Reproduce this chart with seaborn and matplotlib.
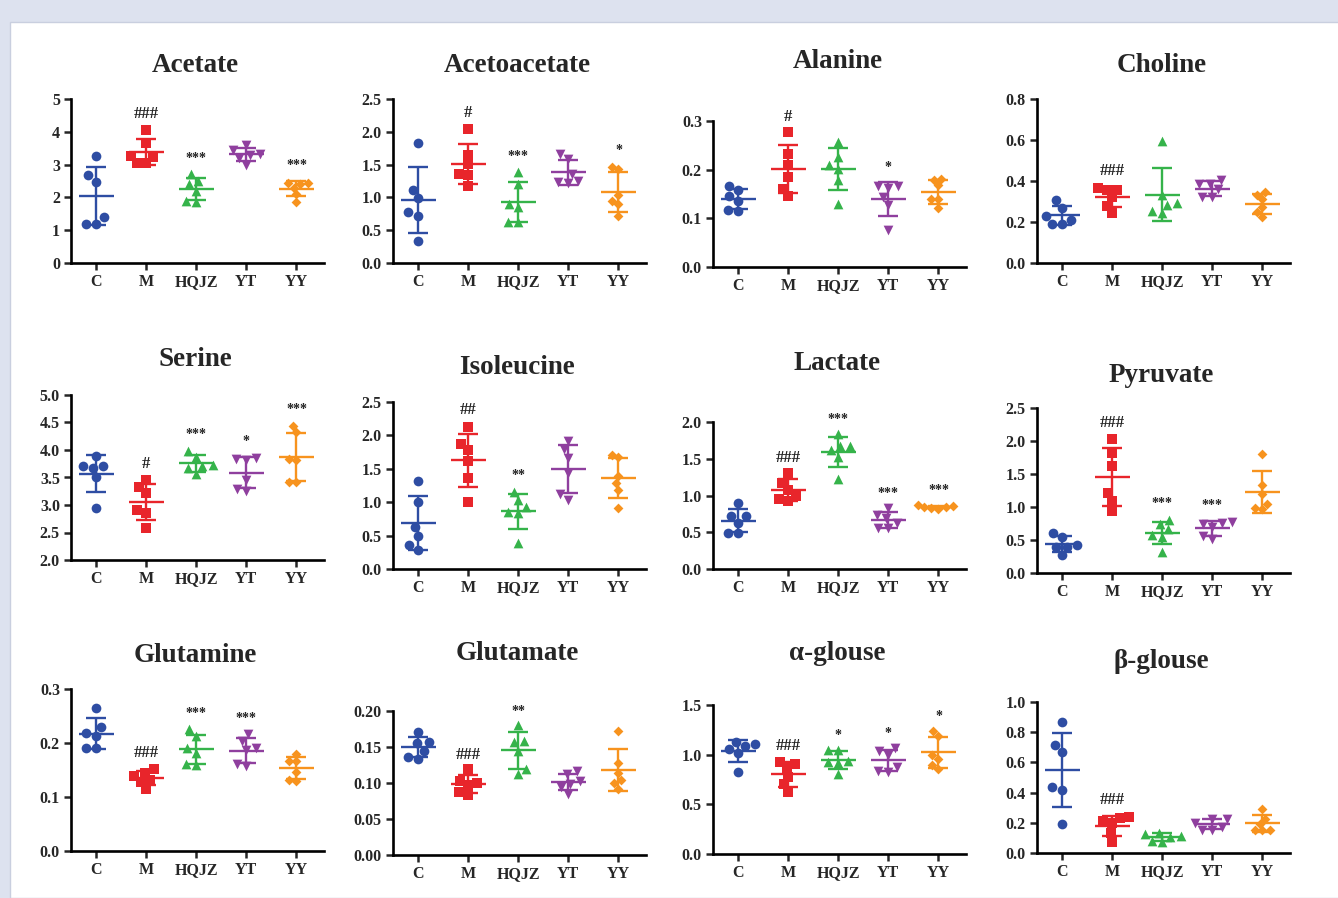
import numpy as np
import matplotlib
matplotlib.use('Agg')
import matplotlib.pyplot as plt
import seaborn as sns
from matplotlib.patches import Rectangle

groups = ['C', 'M', 'HQJZ', 'YT', 'YY']
colors = ['#2e4da3', '#e8252b', '#35b34a', '#8f3f9e', '#f7931e']
markers = ['o', 's', '^', 'v', 'D']
marker_sizes = [7, 6.5, 7, 7, 5]

# values per group: C, M, HQJZ, YT, YY
acetate = [[3.27, 2.67, 2.48, 1.39, 1.20, 1.20],
           [4.06, 3.65, 3.27, 3.23, 3.06, 3.04],
           [2.70, 2.50, 2.40, 2.20, 1.90, 1.85],
           [3.60, 3.45, 3.33, 3.28, 3.20, 3.00],
           [2.45, 2.43, 2.40, 2.30, 2.10, 1.87]]
acetoacetate = [[1.83, 1.12, 0.99, 0.77, 0.72, 0.33],
                [2.04, 1.65, 1.51, 1.35, 1.34, 1.18],
                [1.39, 1.20, 0.90, 0.85, 0.62, 0.62],
                [1.66, 1.58, 1.36, 1.25, 1.23, 1.22],
                [1.47, 1.43, 1.04, 0.94, 0.90, 0.71]]
alanine = [[0.166, 0.158, 0.145, 0.135, 0.118, 0.115],
           [0.277, 0.233, 0.209, 0.184, 0.161, 0.145],
           [0.257, 0.226, 0.209, 0.202, 0.179, 0.130],
           [0.166, 0.166, 0.163, 0.144, 0.127, 0.077],
           [0.181, 0.179, 0.168, 0.139, 0.139, 0.122]]
choline = [[0.305, 0.268, 0.230, 0.208, 0.190, 0.190],
           [0.365, 0.357, 0.357, 0.320, 0.280, 0.243],
           [0.593, 0.333, 0.295, 0.284, 0.256, 0.243],
           [0.406, 0.386, 0.386, 0.360, 0.321, 0.321],
           [0.344, 0.333, 0.312, 0.273, 0.247, 0.224]]
serine = [[3.89, 3.71, 3.71, 3.67, 3.50, 2.95],
          [3.45, 3.33, 3.22, 2.91, 2.85, 2.58],
          [3.99, 3.88, 3.73, 3.70, 3.67, 3.56],
          [3.86, 3.84, 3.82, 3.45, 3.30, 3.25],
          [4.44, 4.33, 3.83, 3.82, 3.42, 3.42]]
isoleucine = [[1.32, 1.01, 0.63, 0.49, 0.36, 0.29],
              [2.13, 1.87, 1.78, 1.61, 1.36, 1.00],
              [1.16, 1.03, 0.93, 0.85, 0.84, 0.39],
              [1.92, 1.79, 1.66, 1.44, 1.13, 1.04],
              [1.71, 1.67, 1.39, 1.29, 1.19, 0.91]]
lactate = [[0.90, 0.72, 0.72, 0.63, 0.49, 0.49],
           [1.31, 1.17, 1.08, 0.99, 0.95, 0.93],
           [1.84, 1.67, 1.67, 1.62, 1.53, 1.23],
           [0.83, 0.74, 0.69, 0.63, 0.56, 0.56],
           [0.87, 0.86, 0.85, 0.84, 0.83, 0.82]]
pyruvate = [[0.61, 0.54, 0.42, 0.40, 0.39, 0.27],
            [2.03, 1.82, 1.62, 1.21, 1.09, 0.94],
            [0.81, 0.74, 0.66, 0.57, 0.54, 0.32],
            [0.78, 0.76, 0.74, 0.70, 0.56, 0.52],
            [1.81, 1.34, 1.20, 1.05, 0.99, 0.97]]
glutamine = [[0.265, 0.229, 0.218, 0.213, 0.190, 0.190],
             [0.151, 0.145, 0.139, 0.131, 0.128, 0.114],
             [0.226, 0.213, 0.190, 0.181, 0.162, 0.159],
             [0.217, 0.203, 0.190, 0.187, 0.162, 0.157],
             [0.180, 0.166, 0.166, 0.147, 0.131, 0.130]]
glutamate = [[0.171, 0.157, 0.155, 0.145, 0.136, 0.134],
             [0.119, 0.103, 0.100, 0.097, 0.088, 0.083],
             [0.180, 0.158, 0.157, 0.145, 0.120, 0.112],
             [0.116, 0.112, 0.103, 0.099, 0.094, 0.085],
             [0.172, 0.128, 0.114, 0.104, 0.100, 0.092]]
a_glucose = [[1.13, 1.11, 1.09, 1.06, 1.02, 0.83],
             [0.93, 0.91, 0.87, 0.78, 0.70, 0.62],
             [1.05, 1.05, 0.94, 0.93, 0.92, 0.81],
             [1.07, 1.04, 1.00, 0.88, 0.84, 0.83],
             [1.24, 1.19, 1.00, 0.96, 0.90, 0.86]]
b_glucose = [[0.868, 0.713, 0.669, 0.437, 0.419, 0.194],
             [0.238, 0.234, 0.210, 0.200, 0.132, 0.073],
             [0.130, 0.128, 0.115, 0.108, 0.080, 0.070],
             [0.227, 0.227, 0.199, 0.172, 0.155, 0.155],
             [0.294, 0.227, 0.194, 0.155, 0.155, 0.150]]

titles = ['Acetate', 'Acetoacetate', 'Alanine', 'Choline',
          'Serine', 'Isoleucine', 'Lactate', 'Pyruvate',
          'Glutamine', 'Glutamate', 'α-glouse', 'β-glouse']
series = [acetate, acetoacetate, alanine, choline,
          serine, isoleucine, lactate, pyruvate,
          glutamine, glutamate, a_glucose, b_glucose]
# y axis: (min, max, step, decimals)
y_axes = [(0, 5, 1, 0), (0, 2.5, 0.5, 1), (0, 0.3, 0.1, 1), (0, 0.8, 0.2, 1),
          (2.0, 5.0, 0.5, 1), (0, 2.5, 0.5, 1), (0, 2.0, 0.5, 1), (0, 2.5, 0.5, 1),
          (0, 0.3, 0.1, 1), (0, 0.20, 0.05, 2), (0, 1.5, 0.5, 1), (0, 1.0, 0.2, 1)]
# significance marks per group
marks = [['', '###', '***', '', '***'],
         ['', '#', '***', '', '*'],
         ['', '#', '', '*', ''],
         ['', '###', '', '', ''],
         ['', '#', '***', '*', '***'],
         ['', '##', '**', '', ''],
         ['', '###', '***', '***', '***'],
         ['', '###', '***', '***', ''],
         ['', '###', '***', '***', ''],
         ['', '###', '**', '', ''],
         ['', '###', '*', '*', '*'],
         ['', '###', '', '', '']]

# layout in pixels of the 1338x898 canvas
W, H = 1338, 898
col_left = [71, 393, 713, 1037]
ax_w = 253
ax_rows = [(99, 263), (99, 263), (121, 267), (99, 263),
           (395, 560), (402, 569), (422, 569), (408, 573),
           (689, 851), (711, 855), (705, 854), (702, 853)]
title_y = [65, 65, 62, 65, 360, 368, 364, 375, 656, 653, 654, 662]

sns.set_style('ticks')
plt.rcParams['font.family'] = ['Liberation Serif', 'DejaVu Serif']
plt.rcParams['font.weight'] = 'bold'

fig = plt.figure(figsize=(W / 100, H / 100), dpi=100)
fig.patch.set_facecolor('#dde2ef')
fig.patches.append(Rectangle((10 / W, 0), 1, 1 - 22 / H, transform=fig.transFigure,
                             facecolor='white', edgecolor='#c9cfdf', lw=1, zorder=-5))

for i, (title, data) in enumerate(zip(titles, series)):
    left = col_left[i % 4]
    top, bottom = ax_rows[i]
    ax = fig.add_axes([left / W, 1 - bottom / H, ax_w / W, (bottom - top) / H])
    ax.patch.set_alpha(0)
    ymin, ymax, ystep, dec = y_axes[i]
    span = ymax - ymin

    for j, g in enumerate(groups):
        vals = np.array(data[j])
        sns.swarmplot(x=[g] * len(vals), y=vals, order=groups, color=colors[j],
                      marker=markers[j], size=marker_sizes[j], linewidth=0, ax=ax, zorder=3)
        m = vals.mean()
        sd = vals.std(ddof=1)
        ax.hlines(m, j - 0.35, j + 0.35, color=colors[j], lw=1.7, zorder=4)
        ax.vlines(j, m - sd, m + sd, color=colors[j], lw=1.7, zorder=4)
        ax.hlines([m - sd, m + sd], j - 0.2, j + 0.2, color=colors[j], lw=1.7, zorder=4)
        if marks[i][j]:
            top_val = max(vals.max(), m + sd)
            fs = 12 if '#' in marks[i][j] else 10
            ax.text(j, top_val + 0.075 * span, marks[i][j], ha='center', va='baseline',
                    fontsize=fs, fontweight='bold', color='#222222')

    ax.set_xlim(-0.5, 4.55)
    ax.set_ylim(ymin, ymax)
    ticks = np.arange(ymin, ymax + ystep / 2, ystep)
    ax.set_yticks(ticks)
    ax.set_yticklabels([f'{t:.{dec}f}' for t in ticks])
    ax.set_xticks(range(len(groups)))
    ax.set_xticklabels(groups)
    ax.set_xlabel('')
    ax.set_ylabel('')
    sns.despine(ax=ax)
    for s in ['left', 'bottom']:
        ax.spines[s].set_linewidth(1.9)
        ax.spines[s].set_color('black')
    ax.tick_params(direction='out', length=5, width=1.8, labelsize=11.5, pad=3)
    for lab in ax.get_xticklabels() + ax.get_yticklabels():
        lab.set_fontweight('bold')

    fig.text((left + ax_w / 2 - 2) / W, 1 - title_y[i] / H, title, ha='center', va='center',
             fontsize=19.5, fontweight='bold')

fig.savefig('out.png', dpi=100, facecolor=fig.get_facecolor())
